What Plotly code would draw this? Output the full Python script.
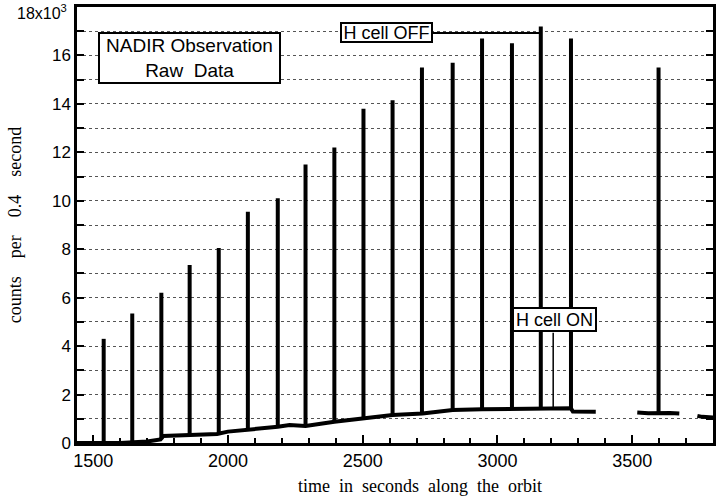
import plotly.graph_objects as go

# ---- data ----
spike_time = [1539, 1645, 1753, 1858, 1966, 2074, 2185, 2288, 2395, 2503,
              2611, 2720, 2834, 2943, 3054, 3161, 3273, 3598]
spike_peak = [4300, 5350, 6200, 7350, 8050, 9550, 10100, 11500, 12200, 13800,
              14150, 15500, 15700, 16700, 16500, 17200, 16700, 15500]
spike_base = [0, 0, 150, 290, 370, 540, 670, 700, 880, 1020,
              1160, 1220, 1360, 1390, 1390, 1430, 1430, 1240]

base_time = [1440, 1600, 1700, 1750, 1760, 1960, 2000, 2080, 2185, 2229, 2288,
             2395, 2503, 2611, 2722, 2834, 2943, 3054, 3161, 3273, 3280, 3365,
             None, 3519, 3560, 3640, 3675,
             None, 3742, 3760, 3800]
base_val = [0, 0, 60, 150, 290, 370, 470, 540, 670, 740, 700,
            880, 1020, 1160, 1220, 1360, 1390, 1390, 1430, 1430, 1300, 1290,
            None, 1260, 1230, 1240, 1220,
            None, 1120, 1080, 1050]

hon_marker_time = [3207, 3207]
hon_marker_val = [1430, 4550]

off_leader_time = [2700, 3161]
off_leader_val = [16930, 16930]

x_tick_vals = [1500, 2000, 2500, 3000, 3500]
x_tick_text = ["1500", "2000", "2500", "3000", "3500"]
y_tick_vals = list(range(0, 19000, 1000))
y_tick_text = ["0", "", "2", "", "4", "", "6", "", "8", "", "10", "", "12", "",
               "14", "", "16", "", ""]
y_top_label = "18x10<sup>3</sup>"

# ---- figure ----
fig = go.Figure()

sx, sy = [], []
for t, b, p in zip(spike_time, spike_base, spike_peak):
    sx += [t, t, None]
    sy += [b, p, None]

fig.add_trace(go.Scatter(x=base_time, y=base_val, mode="lines",
                         line=dict(color="black", width=4), connectgaps=False,
                         hoverinfo="skip"))
fig.add_trace(go.Scatter(x=sx, y=sy, mode="lines",
                         line=dict(color="black", width=4), connectgaps=False))
fig.add_trace(go.Scatter(x=hon_marker_time, y=hon_marker_val, mode="lines",
                         line=dict(color="black", width=1.5)))
fig.add_trace(go.Scatter(x=off_leader_time, y=off_leader_val, mode="lines",
                         line=dict(color="black", width=2)))

sans = "Liberation Sans, Arial, sans-serif"
serif = "Liberation Serif, Times New Roman, serif"

fig.add_annotation(x=1856, y=15900, xref="x", yref="y",
                   text="NADIR Observation<br>Raw  Data", showarrow=False,
                   font=dict(family=sans, size=19, color="black"),
                   bgcolor="white", bordercolor="black", borderwidth=2,
                   borderpad=1, width=177, height=46, align="center")
fig.add_annotation(x=2588, y=16930, xref="x", yref="y",
                   text="H cell OFF", showarrow=False,
                   font=dict(family=sans, size=18, color="black"),
                   bgcolor="white", bordercolor="black", borderwidth=2,
                   borderpad=0, width=89, height=17)
fig.add_annotation(x=3213, y=5100, xref="x", yref="y",
                   text="H cell ON", showarrow=False,
                   font=dict(family=sans, size=18, color="black"),
                   bgcolor="white", bordercolor="black", borderwidth=2,
                   borderpad=0, width=81, height=21)

# top y-axis label (18x10^3), kept fully inside the page
fig.add_annotation(x=-0.012, y=1.016, xref="paper", yref="paper",
                   text=y_top_label, showarrow=False,
                   font=dict(family=sans, size=16, color="black"),
                   xanchor="right", yanchor="top")

fig.add_annotation(x=0.54, y=-0.099, xref="paper", yref="paper",
                   text="time&nbsp;&nbsp;in&nbsp;&nbsp;seconds&nbsp;&nbsp;along&nbsp;&nbsp;the&nbsp;&nbsp;orbit",
                   showarrow=False,
                   font=dict(family=serif, size=18, color="black"),
                   yanchor="middle")
fig.add_annotation(x=-0.097, y=0.5, xref="paper", yref="paper",
                   text="counts&nbsp;&nbsp;&nbsp;&nbsp;per&nbsp;&nbsp;&nbsp;&nbsp;0.4&nbsp;&nbsp;&nbsp;&nbsp;second",
                   showarrow=False, textangle=-90,
                   font=dict(family=serif, size=18, color="black"),
                   xanchor="center", yanchor="middle")

fig.update_xaxes(range=[1440, 3800], showline=True, linecolor="black", linewidth=2.5,
                 mirror=True, ticks="inside", ticklen=8, tickwidth=2,
                 tickcolor="black", tickvals=x_tick_vals, ticktext=x_tick_text,
                 showgrid=False, zeroline=False, automargin=False,
                 tickfont=dict(family=sans, size=18, color="black"),
                 minor=dict(dtick=100, tick0=1500, ticks="inside", ticklen=5,
                            tickwidth=1.5, tickcolor="black", showgrid=False))
fig.update_yaxes(range=[0, 18000], showline=True, linecolor="black", linewidth=2.5,
                 mirror="ticks", ticks="inside", ticklen=7, tickwidth=2,
                 tickcolor="black", tickvals=y_tick_vals, ticktext=y_tick_text,
                 showgrid=True, gridcolor="#555", gridwidth=1, griddash="dot",
                 zeroline=False, automargin=False,
                 tickfont=dict(family=sans, size=17, color="black"))

fig.update_layout(width=721, height=498, margin=dict(l=77, r=8, t=7, b=55),
                  paper_bgcolor="white", plot_bgcolor="white", showlegend=False)

fig.write_html("out.html")
